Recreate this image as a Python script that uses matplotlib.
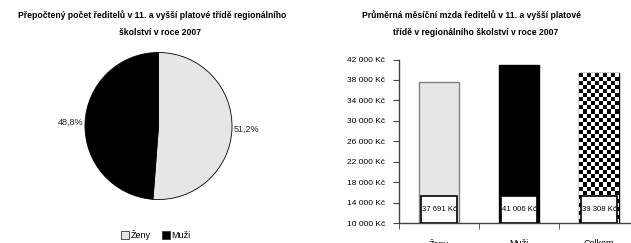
import matplotlib
matplotlib.use('Agg')
import matplotlib.pyplot as plt
from matplotlib.patches import Patch
import numpy as np

# data
pie_labels = ['Ženy', 'Muži']
pie_shares = [51.2, 48.8]

bar_labels = ['Ženy', 'Muži', 'Celkem']
bar_values = [37691, 41006, 39308]
y_ticks = list(range(10000, 42001, 4000))

title_left = 'Přepočtený počet ředitelů v 11. a vyšší platové třídě regionálního\nškolství v roce 2007'
title_right = 'Průměrná měsíční mzda ředitelů v 11. a vyšší platové\ntřídě v regionálního školství v roce 2007'

plt.rcParams['font.family'] = ['Liberation Sans Narrow', 'Liberation Sans', 'DejaVu Sans']

W, H = 631, 243
fig = plt.figure(figsize=(W / 100, H / 100), dpi=100)

def fx(px):
    return px / W

def fy(py):
    return 1 - py / H

# titles
tl = title_left.split('\n')
tr = title_right.split('\n')
fig.text(fx(152), fy(15), tl[0], ha='center', va='center', fontsize=6.2, fontweight='bold')
fig.text(fx(160), fy(32), tl[1], ha='center', va='center', fontsize=6.2, fontweight='bold')
fig.text(fx(471), fy(15), tr[0], ha='center', va='center', fontsize=6.2, fontweight='bold')
fig.text(fx(476), fy(32), tr[1], ha='center', va='center', fontsize=6.2, fontweight='bold')

# ---- pie
pie_colors = ['#e6e6e6', 'black']
ax1 = fig.add_axes([fx(83.5), fy(201), fx(150), 150 / H])
wedges, texts, autotexts = ax1.pie(pie_shares, colors=pie_colors, startangle=90, counterclock=False,
                                   autopct=lambda p: ('%.1f%%' % p).replace('.', ','),
                                   pctdistance=1.2,
                                   wedgeprops=dict(edgecolor='black', linewidth=0.6),
                                   textprops=dict(fontsize=6.5, color='#222222'))
ax1.set_xlim(-1.02, 1.02)
ax1.set_ylim(-1.02, 1.02)
ax1.set_aspect('auto')
ax1.axis('off')

handles = [Patch(facecolor=c, edgecolor='#333333', linewidth=0.6) for c in pie_colors]
fig.legend(handles, pie_labels, loc='center', bbox_to_anchor=(fx(156), fy(235)), ncol=2,
           frameon=False, fontsize=6.5, handlelength=0.9, handleheight=0.9,
           handletextpad=0.2, columnspacing=1.2)

# ---- bars
ax2 = fig.add_axes([fx(399), fy(223), fx(232), (223 - 59.5) / H])
x = np.arange(len(bar_values))
bars = ax2.bar(x, bar_values, width=0.5, bottom=0,
               color=['#e6e6e6', 'black', 'white'],
               edgecolor=['#808080', 'black', 'black'], linewidth=1, zorder=2)

# checkerboard fill for "Celkem"
b = bars[2]
bx, bw = b.get_x(), b.get_width()
by, bh = 10000, b.get_height() - 10000
ncols = 10
nrows = int(round(bh / 790))
checks = (np.indices((nrows, ncols)).sum(axis=0) % 2).astype(float)
im = ax2.imshow(checks, cmap='gray', extent=[bx, bx + bw, by, by + bh], origin='lower',
                interpolation='nearest', aspect='auto', zorder=2.5)
im.set_clip_path(b)

# value boxes at bottom of bars
box_top = 15300
ax2.bar(x, box_top - 10000, width=0.46, bottom=10000, color='white', edgecolor='black',
        linewidth=1.2, zorder=3)
for xi, v in zip(x, bar_values):
    ax2.text(xi, (10000 + box_top) / 2, '{:,}'.format(v).replace(',', ' ') + ' Kč',
             ha='center', va='center', fontsize=5.6, zorder=4)

ax2.set_xlim(-0.5, 2.4)
ax2.set_ylim(10000, 42000)
ax2.set_yticks(y_ticks)
ax2.set_yticklabels(['{:,}'.format(t).replace(',', ' ') + ' Kč' for t in y_ticks], fontsize=6)
ax2.set_xticks(x)
ax2.set_xticklabels(bar_labels, fontsize=6.5)
ax2.set_xticks([-0.5, 0.5, 1.5], minor=True)
ax2.tick_params(axis='x', which='major', length=0, pad=11.5)
ax2.tick_params(axis='x', which='minor', length=4, direction='out', color='#444444')
ax2.tick_params(axis='y', length=4, direction='out', color='#444444', pad=6)
for s in ['top', 'right']:
    ax2.spines[s].set_visible(False)
for s in ['left', 'bottom']:
    ax2.spines[s].set_color('#444444')
    ax2.spines[s].set_linewidth(1)

fig.savefig('out.png', dpi=100)
